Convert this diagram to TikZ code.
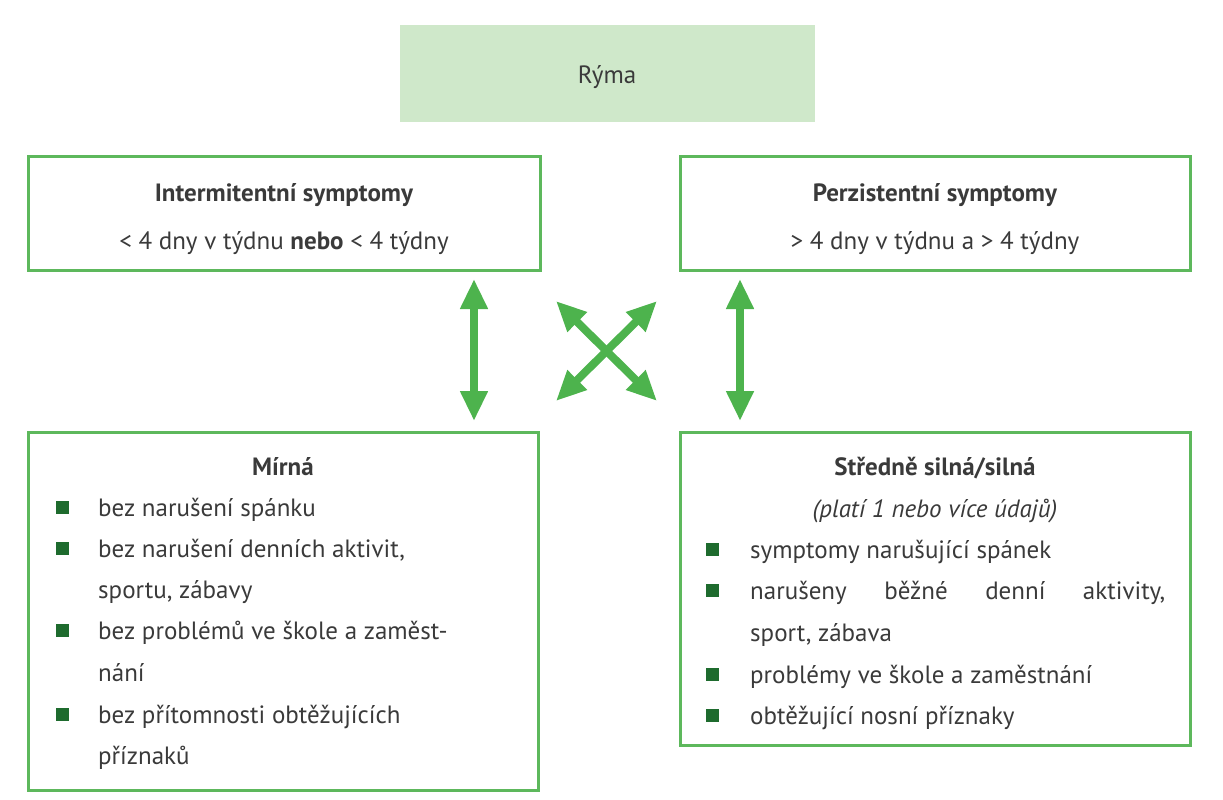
\documentclass[tikz,border=0pt]{standalone}
\usepackage{fontspec}
\setmainfont{PT Sans}
\usetikzlibrary{arrows.meta}
\definecolor{gbord}{HTML}{5DB85C}
\definecolor{garr}{HTML}{4DB34D}
\definecolor{gfill}{HTML}{CFE8CA}
\definecolor{gbul}{HTML}{1E6B2E}
\definecolor{txt}{HTML}{3A3A3A}
\tikzset{
  box/.style={draw=gbord,line width=3pt},
  t/.style={anchor=base west,inner sep=0,text=txt,font=\fontsize{25}{30}\selectfont},
  h/.style={anchor=base,inner sep=0,text=txt,font=\fontsize{25}{30}\selectfont},
  bul/.style={fill=gbul,minimum size=13pt,inner sep=0},
  dbl/.style={garr,line width=8pt,{Triangle[length=30pt,width=26pt]}-{Triangle[length=30pt,width=26pt]}},
}
\begin{document}
\begin{tikzpicture}[x=1pt,y=-1pt]
\useasboundingbox (0,0) rectangle (1223,800);
\fill[gfill] (400,25) rectangle (815,122);
\node[h] (ryma) at (607,83) {Rýma};
\draw[box] (28,156) rectangle (540,270);
\draw[box] (680,156) rectangle (1190,270);
\draw[box] (28,432) rectangle (538,790);
\draw[box] (680,432) rectangle (1190,745);
\node[h] (i1) at (284,201) {\textbf{Intermitentní symptomy}};
\node[h] (i2) at (284,249) {< 4 dny v týdnu \textbf{nebo} < 4 týdny};
\node[h] (p1) at (935,201) {\textbf{Perzistentní symptomy}};
\node[h] (p2) at (935,249) {> 4 dny v týdnu a > 4 týdny};
\node[h] (m1) at (283,475) {\textbf{Mírná}};
\foreach \y/\s [count=\i] in {516/bez narušení spánku,557/{bez narušení denních aktivit,},639/bez problémů ve škole a zaměst-,723/bez přítomnosti obtěžujících}
  {\node[bul] (mb\i) at (62,\y-9) {}; \node[t] (mt\i) at (98,\y) {\s};}
\node[t] (mc1) at (98,598) {sportu, zábavy};
\node[t] (mc2) at (98,681) {nání};
\node[t] (mc3) at (98,764) {příznaků};
\node[h] (s1) at (935,475) {\textbf{Středně silná/silná}};
\node[h] (s2) at (935,517) {\itshape (platí 1 nebo více údajů)};
\node[bul] (sb1) at (712,549) {}; \node[t] (st1) at (750,558) {symptomy narušující spánek};
\node[bul] (sb2) at (712,590) {}; \node[t] (st2) at (750,599) {\makebox[415pt][s]{narušeny běžné denní aktivity,}};
\node[t] (st2b) at (750,641) {sport, zábava};
\node[bul] (sb3) at (712,674) {}; \node[t] (st3) at (750,683) {problémy ve škole a zaměstnání};
\node[bul] (sb4) at (712,715) {}; \node[t] (st4) at (750,724) {obtěžující nosní příznaky};
\coordinate (a1) at (474,279); \coordinate (a2) at (474,421);
\coordinate (b1) at (740,279); \coordinate (b2) at (740,421);
\coordinate (c1) at (556,301); \coordinate (c2) at (657,401);
\coordinate (d1) at (657,301); \coordinate (d2) at (556,401);
\draw[dbl] (a1) -- (a2);
\draw[dbl] (b1) -- (b2);
\draw[dbl] (c1) -- (c2);
\draw[dbl] (d1) -- (d2);
\end{tikzpicture}
\end{document}
